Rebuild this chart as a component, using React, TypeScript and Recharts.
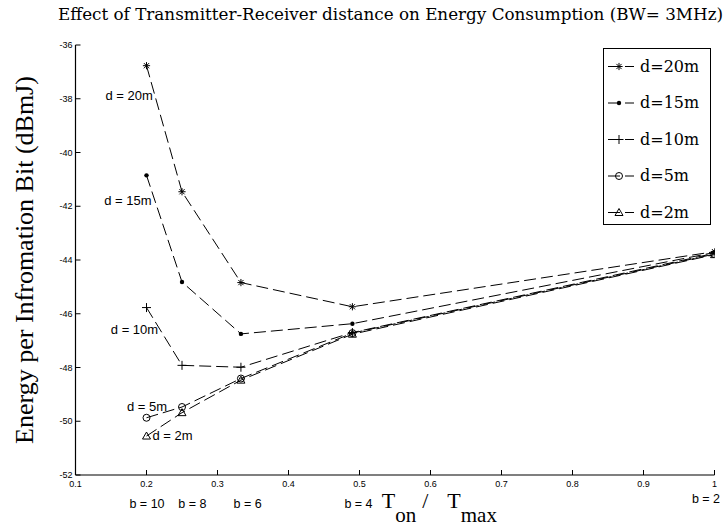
import React from 'react';
import { LineChart, Line, XAxis, YAxis, ReferenceDot, Legend } from 'recharts';

// ---- data ----
const tonRatio = [0.2, 0.25, 0.333, 0.49, 1];
const d20 = [-36.77, -41.46, -44.84, -45.74, -43.69];
const d15 = [-40.85, -44.82, -46.75, -46.37, -43.72];
const d10 = [-45.77, -47.92, -47.99, -46.7, -43.75];
const d5 = [-49.87, -49.47, -48.41, -46.72, -43.78];
const d2 = [-50.55, -49.68, -48.47, -46.76, -43.8];

const seriesKeys = ['d20', 'd15', 'd10', 'd5', 'd2'];
const seriesNames = ['d=20m', 'd=15m', 'd=10m', 'd=5m', 'd=2m'];
const markerKinds = ['star', 'dot', 'plus', 'circle', 'triangle'];

const xTicks = [0.1, 0.2, 0.3, 0.4, 0.5, 0.6, 0.7, 0.8, 0.9, 1];
const yTicks = [-52, -50, -48, -46, -44, -42, -40, -38, -36];

const curveLabels = ['d = 20m', 'd = 15m', 'd = 10m', 'd = 5m', 'd = 2m'];
const curveLabelX = [0.2089, 0.207, 0.2164, 0.229, 0.2085];
const curveLabelY = [-37.86, -41.8, -46.6, -49.46, -50.51];
const curveLabelSide = ['left', 'left', 'left', 'left', 'right'];

const bLabels = ['b = 10', 'b = 8', 'b = 6', 'b = 4', 'b = 2'];
const bLabelX = [0.2007, 0.2645, 0.3423, 0.4986, 0.988];
const bLabelY = [-53.05, -53.05, -53.05, -53.05, -52.86];

const titleText = 'Effect of Transmitter-Receiver distance on Energy Consumption (BW= 3MHz)';
const yLabelText = 'Energy per Infromation Bit (dBmJ)';

const seriesValues = [d20, d15, d10, d5, d2];
const data = tonRatio.map((x, i) => {
  const row: any = { x };
  seriesKeys.forEach((k, j) => {
    row[k] = seriesValues[j][i];
  });
  return row;
});

function Marker({ kind, cx, cy }: { kind: string; cx?: number; cy?: number }) {
  if (cx == null || cy == null) return null;
  const st = { stroke: '#000', strokeWidth: 1, fill: 'none' };
  if (kind === 'star') {
    const s = 3.6;
    const d = s * 0.72;
    return (
      <g {...st}>
        <line x1={cx - s} y1={cy} x2={cx + s} y2={cy} />
        <line x1={cx} y1={cy - s} x2={cx} y2={cy + s} />
        <line x1={cx - d} y1={cy - d} x2={cx + d} y2={cy + d} />
        <line x1={cx - d} y1={cy + d} x2={cx + d} y2={cy - d} />
      </g>
    );
  }
  if (kind === 'dot') {
    return <circle cx={cx} cy={cy} r={2.2} fill="#000" stroke="none" />;
  }
  if (kind === 'plus') {
    const s = 4.5;
    return (
      <g {...st}>
        <line x1={cx - s} y1={cy} x2={cx + s} y2={cy} />
        <line x1={cx} y1={cy - s} x2={cx} y2={cy + s} />
      </g>
    );
  }
  if (kind === 'circle') {
    return <circle cx={cx} cy={cy} r={3.5} {...st} />;
  }
  const s = 4;
  return (
    <polygon
      points={`${cx},${cy - s} ${cx + s},${cy + s * 0.75} ${cx - s},${cy + s * 0.75}`}
      {...st}
    />
  );
}

const renderLegend = () => (
  <svg width={109} height={178} style={{ display: 'block' }}>
    <rect x={0.5} y={0.5} width={107} height={176} fill="#fff" stroke="#000" strokeWidth={1} />
    {seriesNames.map((n, i) => {
      const cy = 18.5 + i * 36.5;
      return (
        <g key={n}>
          <line x1={5} x2={31} y1={cy} y2={cy} stroke="#000" strokeWidth={1} strokeDasharray="12 5 9" />
          <Marker kind={markerKinds[i]} cx={16} cy={cy} />
          <text x={37} y={cy + 5} fontFamily="DejaVu Serif" fontSize={16} fill="#000">
            {n}
          </text>
        </g>
      );
    })}
  </svg>
);

const YLabel = (props: any) => {
  const vb = props.viewBox || { x: 0, y: 45, width: 75.5, height: 430 };
  const cx = vb.x + 33;
  const cy = vb.y + vb.height / 2;
  return (
    <text
      x={cx}
      y={cy}
      transform={`rotate(-90, ${cx}, ${cy})`}
      textAnchor="middle"
      fontFamily="Liberation Serif"
      fontSize={26}
      fill="#000"
    >
      {yLabelText}
    </text>
  );
};

const XLabel = (props: any) => {
  const vb = props.viewBox;
  if (!vb) return null;
  return (
    <text x={vb.x} y={vb.y} fontFamily="Liberation Serif" fontSize={22} fill="#000">
      <tspan>T</tspan>
      <tspan dy={14} fontSize={21}>on</tspan>
      <tspan dy={-14} dx={6}>/</tspan>
      <tspan dx={19}>T</tspan>
      <tspan dy={14} fontSize={21}>max</tspan>
    </text>
  );
};

export default function App() {
  return (
    <div style={{ position: 'absolute', left: 0, top: 0, width: 726, height: 527, background: '#fff' }}>
      <svg width={726} height={30} style={{ position: 'absolute', left: 0, top: 0 }}>
        <text
          x={58}
          y={20}
          fontFamily="DejaVu Serif"
          fontSize={16}
          fill="#000"
          textLength={665}
          lengthAdjust="spacingAndGlyphs"
        >
          {titleText}
        </text>
      </svg>
      <LineChart
        width={726}
        height={527}
        data={data}
        margin={{ top: 45, right: 11.5, bottom: 0, left: 0 }}
      >
        <XAxis
          dataKey="x"
          type="number"
          domain={[0.1, 1]}
          ticks={xTicks}
          interval={0}
          allowDataOverflow
          height={52}
          tickSize={-5}
          tickMargin={11}
          tickFormatter={(v: number) => (v === 1 ? '1' : v.toFixed(1))}
          tick={{ fontSize: 9, fill: '#000', fontFamily: 'Liberation Sans' }}
          axisLine={{ stroke: '#000', strokeWidth: 1.2 }}
          tickLine={{ stroke: '#000' }}
        />
        <XAxis
          xAxisId="top"
          orientation="top"
          type="number"
          domain={[0.1, 1]}
          ticks={xTicks}
          interval={0}
          allowDataOverflow
          height={0}
          tickSize={-5}
          tick={false}
          axisLine={{ stroke: '#000', strokeWidth: 1.2 }}
          tickLine={{ stroke: '#000' }}
        />
        <YAxis
          type="number"
          domain={[-52, -36]}
          ticks={yTicks}
          interval={0}
          allowDataOverflow
          width={75.5}
          tickSize={-5}
          tickMargin={8}
          tickFormatter={(v: number) => String(v)}
          tick={{ fontSize: 9, fill: '#000', fontFamily: 'Liberation Sans' }}
          axisLine={{ stroke: '#000', strokeWidth: 1.2 }}
          tickLine={{ stroke: '#000' }}
          label={{ content: YLabel }}
        />
        <YAxis
          yAxisId="right"
          orientation="right"
          type="number"
          domain={[-52, -36]}
          ticks={yTicks}
          interval={0}
          allowDataOverflow
          width={0}
          tickSize={-5}
          tick={false}
          axisLine={{ stroke: '#000', strokeWidth: 1.2 }}
          tickLine={{ stroke: '#000' }}
        />
        {seriesKeys.map((k, i) => (
          <Line
            key={k}
            dataKey={k}
            name={seriesNames[i]}
            type="linear"
            stroke="#000"
            strokeWidth={1}
            strokeDasharray="12 5"
            isAnimationActive={false}
            activeDot={false}
            dot={(p: any) => <Marker key={`${k}-${p.index}`} kind={markerKinds[i]} cx={p.cx} cy={p.cy} />}
          />
        ))}
        {curveLabels.map((t, i) => (
          <ReferenceDot
            key={t}
            x={curveLabelX[i]}
            y={curveLabelY[i]}
            r={0}
            fill="none"
            stroke="none"
            ifOverflow="visible"
            label={{
              value: t,
              position: curveLabelSide[i] as any,
              offset: 0,
              fill: '#000',
              fontSize: 13,
              fontFamily: 'Liberation Sans',
            }}
          />
        ))}
        {bLabels.map((t, i) => (
          <ReferenceDot
            key={t}
            x={bLabelX[i]}
            y={bLabelY[i]}
            r={0}
            fill="none"
            stroke="none"
            ifOverflow="visible"
            label={{
              value: t,
              position: 'center',
              offset: 0,
              fill: '#000',
              fontSize: 12.5,
              fontFamily: 'Liberation Sans',
            }}
          />
        ))}
        <ReferenceDot
          x={0.5313}
          y={-53.23}
          r={0}
          fill="none"
          stroke="none"
          ifOverflow="visible"
          label={{ content: XLabel }}
        />
        <Legend
          layout="vertical"
          align="center"
          verticalAlign="middle"
          content={renderLegend}
          wrapperStyle={{ left: 603, top: 48, width: 109, height: 178 }}
        />
      </LineChart>
    </div>
  );
}
